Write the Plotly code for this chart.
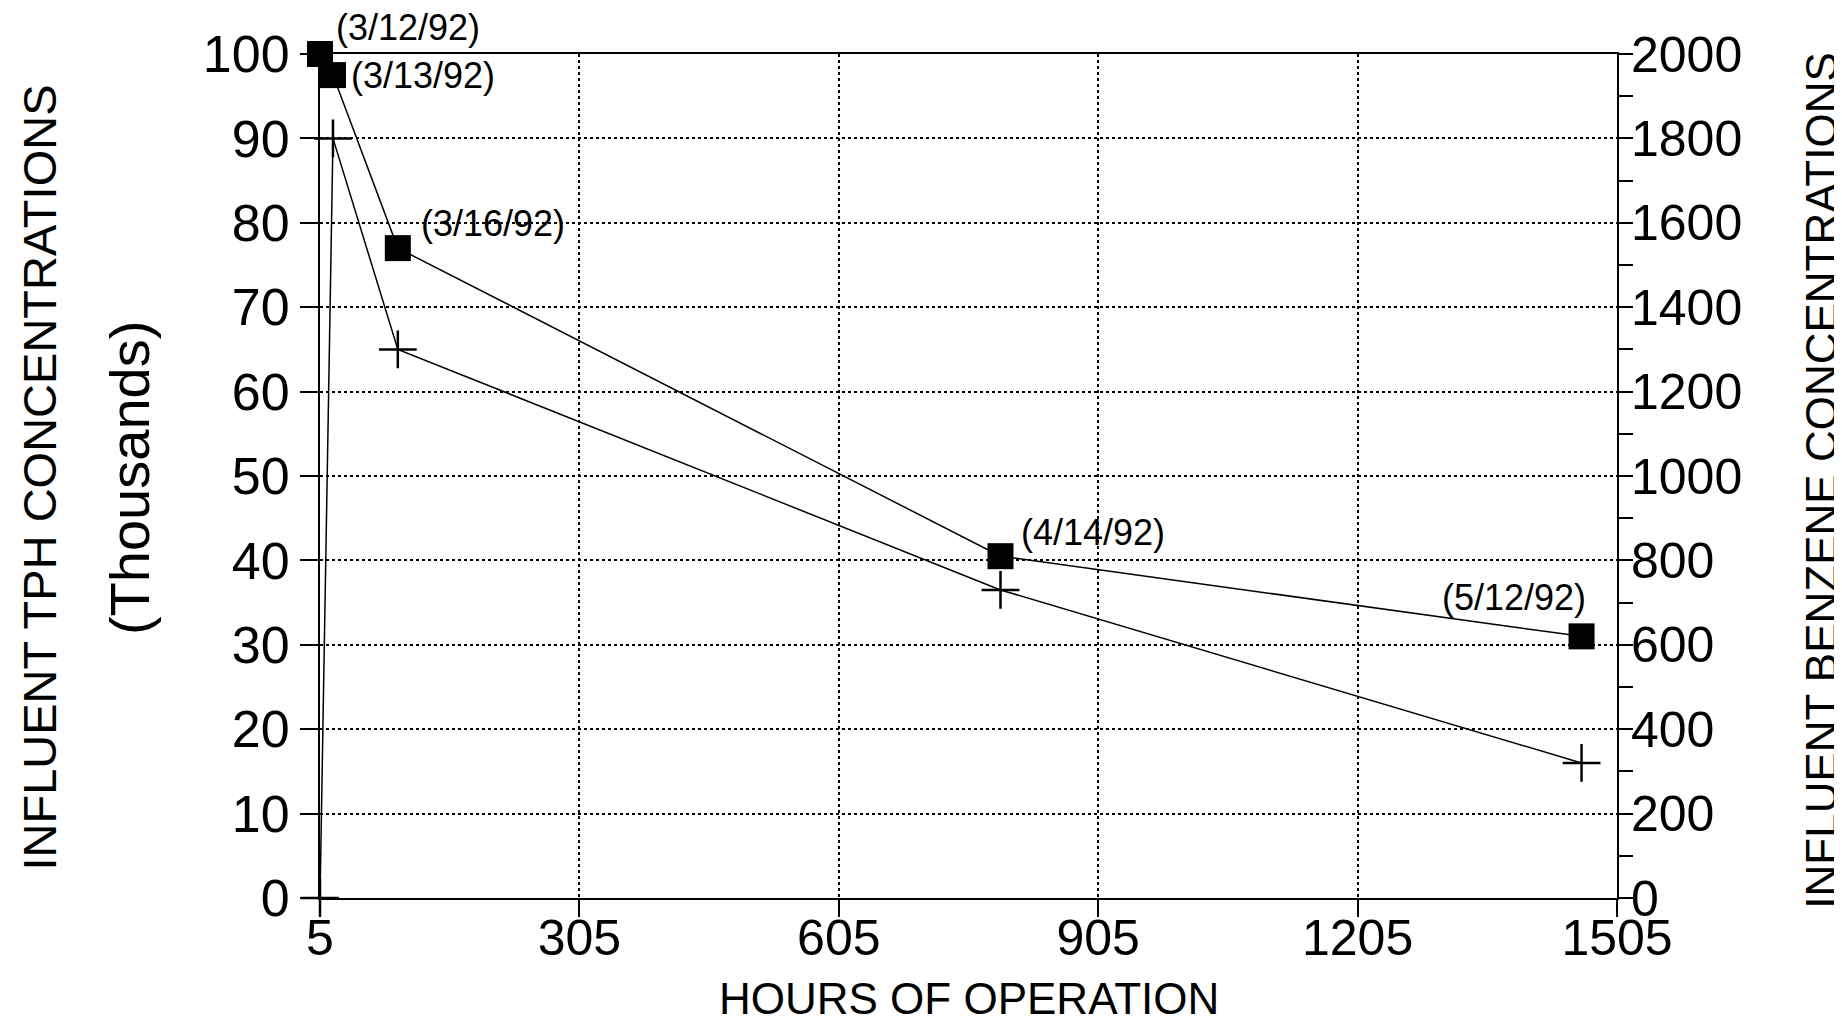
import plotly.graph_objects as go

# ---- data ----
hours = [5, 20, 95, 792, 1464]
dates = ["(3/12/92)", "(3/13/92)", "(3/16/92)", "(4/14/92)", "(5/12/92)"]
tph_thousands = [100, 97.5, 77, 40.5, 31]
benzene = [0, 1800, 1300, 730, 320]
x_ticks = [5, 305, 605, 905, 1205, 1505]
tph_ticks = [0, 10, 20, 30, 40, 50, 60, 70, 80, 90, 100]
benzene_ticks = [0, 200, 400, 600, 800, 1000, 1200, 1400, 1600, 1800, 2000]

# label placement (pixel offsets from each square marker)
label_offsets = [(14, 27, "left"), (16, 0, "left"), (21, 25, "left"),
                 (19, 24, "left"), (6, 39, "right")]

FONT = "Liberation Sans, Arial, Helvetica, sans-serif"

fig = go.Figure()

fig.add_trace(go.Scatter(
    x=hours, y=benzene, yaxis="y2", mode="lines+markers",
    line=dict(color="black", width=1.5),
    marker=dict(symbol="cross-thin", size=27, line=dict(color="black", width=2.5)),
    cliponaxis=False, showlegend=False, name="Benzene"))

fig.add_trace(go.Scatter(
    x=hours, y=tph_thousands, yaxis="y", mode="lines+markers",
    line=dict(color="black", width=1.5),
    marker=dict(symbol="square", size=26, color="black"),
    cliponaxis=False, showlegend=False, name="TPH"))

for xv, yv, d, (dx, dy, anc) in zip(hours, tph_thousands, dates, label_offsets):
    fig.add_annotation(x=xv, y=yv, xref="x", yref="y", text=d, showarrow=False,
                       xanchor=anc, yanchor="middle", xshift=dx, yshift=dy,
                       font=dict(family=FONT, size=36, color="black"))

# axis titles
fig.add_annotation(xref="paper", yref="paper", x=0.5, y=-0.119,
                   text="HOURS OF OPERATION", showarrow=False,
                   xanchor="center", yanchor="middle",
                   font=dict(family=FONT, size=44, color="black"))
fig.add_annotation(xref="paper", yref="paper", x=-0.216, y=0.498,
                   text="INFLUENT TPH CONCENTRATIONS", textangle=-90,
                   showarrow=False, xanchor="center", yanchor="middle",
                   font=dict(family=FONT, size=47, color="black"))
fig.add_annotation(xref="paper", yref="paper", x=-0.147, y=0.498,
                   text="(Thousands)", textangle=-90,
                   showarrow=False, xanchor="center", yanchor="middle",
                   font=dict(family=FONT, size=56, color="black"))
fig.add_annotation(xref="paper", yref="paper", x=1.157, y=0.494,
                   text="INFLUENT BENZENE CONCENTRATIONS", textangle=-90,
                   showarrow=False, xanchor="center", yanchor="middle",
                   font=dict(family=FONT, size=44, color="black"))

fig.update_layout(
    width=1842, height=1026,
    margin=dict(l=312, r=233, t=46, b=136, autoexpand=False),
    paper_bgcolor="white", plot_bgcolor="white",
    font=dict(family=FONT, color="black"),
    xaxis=dict(
        range=[5, 1505], tickvals=x_ticks, ticktext=[str(v) for v in x_ticks],
        showline=True, linecolor="black", linewidth=2, mirror=True,
        ticks="outside", ticklen=17, tickwidth=2, tickcolor="black",
        ticklabelstandoff=-22, automargin=False,
        showgrid=True, gridcolor="black", griddash="dot", gridwidth=1.5,
        zeroline=False, tickfont=dict(family=FONT, size=50, color="black")),
    yaxis=dict(
        range=[0, 100], tickvals=tph_ticks, ticktext=[str(v) for v in tph_ticks],
        showline=True, linecolor="black", linewidth=2, automargin=False,
        ticks="outside", ticklen=18, tickwidth=2, tickcolor="black",
        showgrid=True, gridcolor="black", griddash="dot", gridwidth=1.5,
        zeroline=False, tickfont=dict(family=FONT, size=52, color="black")),
    yaxis2=dict(
        range=[0, 2000], tickvals=benzene_ticks,
        ticktext=[str(v) for v in benzene_ticks],
        overlaying="y", side="right", automargin=False,
        showline=True, linecolor="black", linewidth=2,
        ticks="outside", ticklen=14, tickwidth=2, tickcolor="black",
        ticklabelstandoff=-12,
        minor=dict(dtick=100, ticks="outside", ticklen=14, tickwidth=2,
                   tickcolor="black"),
        showgrid=False, zeroline=False,
        tickfont=dict(family=FONT, size=50, color="black")),
)

fig.write_html("out.html")
